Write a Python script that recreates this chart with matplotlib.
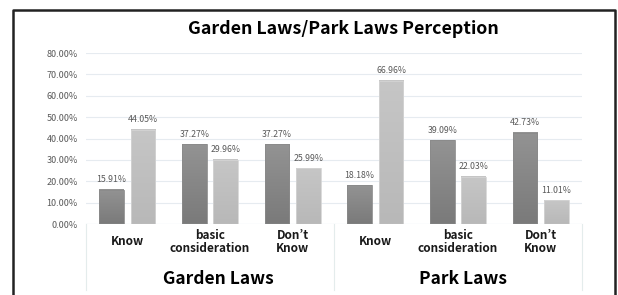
import matplotlib
matplotlib.use('Agg')
import matplotlib.pyplot as plt
import numpy as np
from matplotlib.lines import Line2D

plt.rcParams['font.family'] = ['Noto Sans CJK KR', 'DejaVu Sans']

# datos
categorias = ['Know', 'basic\nconsideration', 'Don\u2019t\nKnow',
              'Know', 'basic\nconsideration', 'Don\u2019t\nKnow']
grupos = ['Garden Laws', 'Park Laws']
serie_oscura = [15.91, 37.27, 37.27, 18.18, 39.09, 42.73]
serie_clara = [44.05, 29.96, 25.99, 66.96, 22.03, 11.01]
ticks_y = [0, 10, 20, 30, 40, 50, 60, 70, 80]

W, H = 618, 295
fig = plt.figure(figsize=(W / 100, H / 100), dpi=100)
ax = fig.add_axes([86 / W, 1 - 224 / H, (582 - 86) / W, (224 - 53) / H])

x = np.arange(len(categorias))
ancho = 0.3
sep = 0.38


def barra_gradiente(ax, xc, altura, c_top, c_bot, edge):
    grad = np.linspace(0, 1, 64).reshape(-1, 1)
    c1 = np.array(matplotlib.colors.to_rgb(c_top))
    c2 = np.array(matplotlib.colors.to_rgb(c_bot))
    img = c2 + (c1 - c2) * grad
    img = img.reshape(64, 1, 3)
    ax.imshow(img, extent=[xc - ancho / 2, xc + ancho / 2, 0, altura],
              origin='lower', aspect='auto', zorder=2, interpolation='bilinear')
    ax.bar(xc, altura, ancho, facecolor='none', edgecolor=edge, linewidth=0.6, zorder=3)


for i in range(len(categorias)):
    xo = x[i] - sep / 2
    xc = x[i] + sep / 2
    barra_gradiente(ax, xo, serie_oscura[i], '#939393', '#7a7a7a', '#8a8a8a')
    barra_gradiente(ax, xc, serie_clara[i], '#c6c6c6', '#b8b8b8', '#d4d4d4')
    ax.text(xo, serie_oscura[i] + 2.6, f'{serie_oscura[i]:.2f}%', ha='center', va='bottom',
            fontsize=6.3, color='#595959')
    ax.text(xc, serie_clara[i] + 2.6, f'{serie_clara[i]:.2f}%', ha='center', va='bottom',
            fontsize=6.3, color='#595959')
    ax.text(x[i], -8.3, categorias[i], ha='center', va='center', fontsize=8.5,
            fontweight='bold', color='#1a1a1a', linespacing=1.0)

ax.set_xlim(-0.5, len(categorias) - 0.5)
ax.set_ylim(0, 80)
ax.set_yticks(ticks_y)
ax.set_yticklabels([f'{v:.2f}%' for v in ticks_y], fontsize=6.5, color='#595959')
ax.set_xticks([])
ax.tick_params(axis='y', length=0, pad=6)
ax.grid(axis='y', color='#e6ebf0', linewidth=0.8)
ax.set_axisbelow(True)
for s in ax.spines.values():
    s.set_visible(False)

# separadores de grupo
for xs in [-0.5, 2.5, 5.5]:
    ax.plot([xs, xs], [0, -31], color='#e4ecec', linewidth=0.8, clip_on=False)
ax.axhline(0, color='#e4ecec', linewidth=0.8)

ax.text(1.1, -25.5, grupos[0], ha='center', va='center', fontsize=12.5, fontweight='bold', color='#000000')
ax.text(4.06, -25.5, grupos[1], ha='center', va='center', fontsize=12.5, fontweight='bold', color='#000000')

fig.text(343 / W, 1 - 29 / H, 'Garden Laws/Park Laws Perception', ha='center', va='center',
         fontsize=12.8, fontweight='bold', color='#000000')

# marco exterior
fig.add_artist(Line2D([13 / W, 13 / W, 615 / W, 615 / W], [0, 1 - 10 / H, 1 - 10 / H, 0],
                      color='#222222', linewidth=1.8, transform=fig.transFigure))

fig.savefig('out.png', dpi=100)
